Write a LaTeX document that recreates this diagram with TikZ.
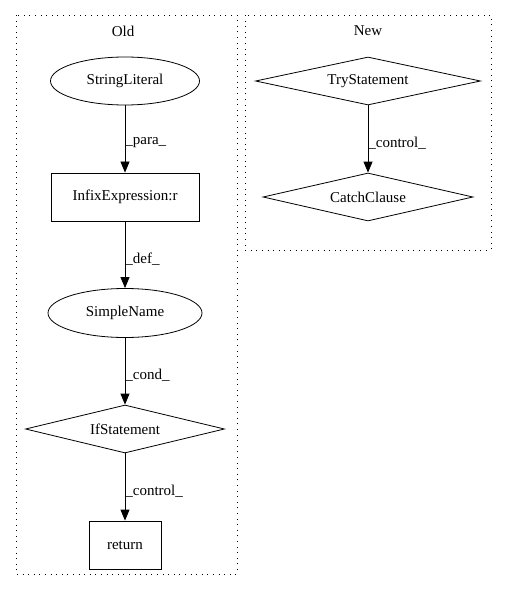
\documentclass[tikz,border=0pt]{standalone}
\usepackage{fontspec}
\setmainfont{Liberation Serif}
\usetikzlibrary{shapes.geometric,arrows.meta}

\begin{document}
\begin{tikzpicture}[
    x=1pt, y=-1pt,
    font=\fontsize{15}{17}\selectfont,
    every node/.style={inner sep=0pt, line width=0.8pt},
    ast/.style={draw, ellipse},
    stmt/.style={draw, rectangle, minimum height=48pt},
    cond/.style={draw, diamond, shape aspect=4.5, minimum height=48pt},
    flow/.style={line width=0.8pt, -{Triangle[length=11pt,width=9pt]}},
    lbl/.style={anchor=west, midway, yshift=-4pt},
    cluster/.style={line width=0.9pt, dash pattern=on 1pt off 4.6pt}
  ]
    \useasboundingbox (0,0) rectangle (507,596);
    % Clusters
    \draw[cluster] (16,15) rectangle (237,574);
    \draw[cluster] (245,15) rectangle (491,250);
    \node (oldtitle) at (123,31) {Old};
    \node (newtitle) at (368,31) {New};
    % Old version nodes
    \node[ast, minimum width=149pt, minimum height=48pt] (strlit) at (125,81) {StringLiteral};
    \node[stmt, minimum width=148pt] (infix) at (125,197) {InfixExpression:r};
    \node[ast, minimum width=154pt, minimum height=49pt] (simple) at (125,313) {SimpleName};
    \node[cond, minimum width=199pt] (ifstmt) at (125,429) {IfStatement};
    \node[stmt, minimum width=72pt] (ret) at (125,545) {return};
    % New version nodes
    \node[cond, minimum width=225pt] (trystmt) at (368,81) {TryStatement};
    \node[cond, minimum width=210pt] (catch) at (368,197) {CatchClause};
    % Edges
    \draw[flow] (strlit) -- (infix) node[lbl] {\_para\_};
    \draw[flow] (infix) -- (simple) node[lbl] {\_def\_};
    \draw[flow] (simple) -- (ifstmt) node[lbl] {\_cond\_};
    \draw[flow] (ifstmt) -- (ret) node[lbl] {\_control\_};
    \draw[flow] (trystmt) -- (catch) node[lbl] {\_control\_};
  \end{tikzpicture}
\end{document}
